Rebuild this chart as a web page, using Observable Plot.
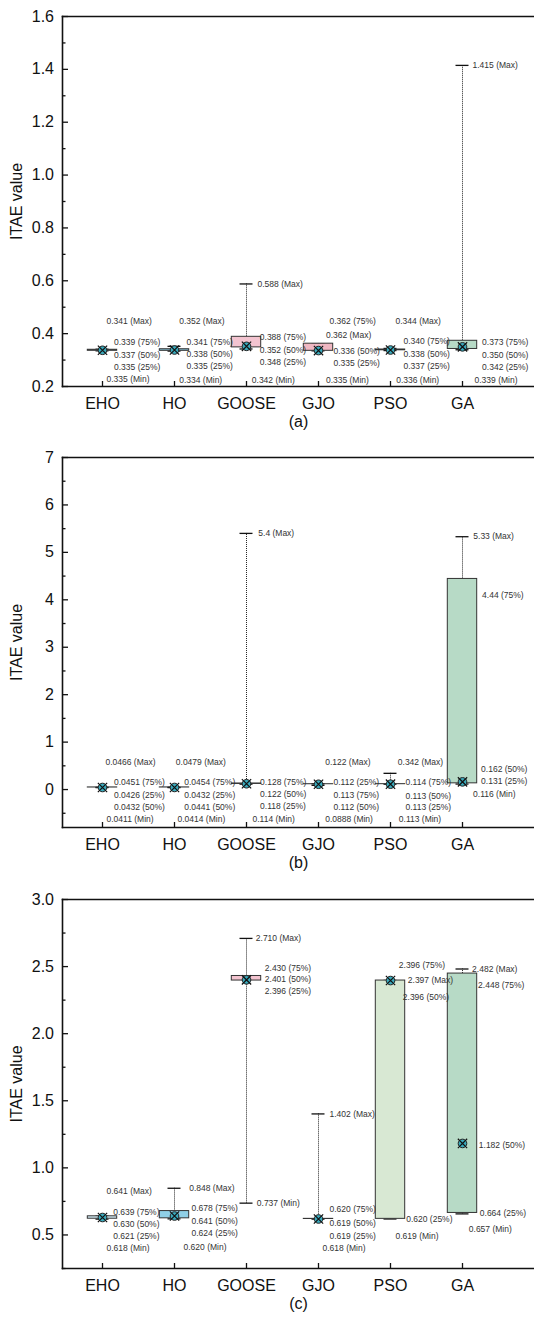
<!DOCTYPE html>
<html>
<head>
<meta charset="utf-8">
<script src="https://cdn.jsdelivr.net/npm/d3@7"></script>
<script src="https://cdn.jsdelivr.net/npm/@observablehq/plot@0.6"></script>
<style>
  html, body { margin: 0; padding: 0; background: #fff; }
  #chart svg { display: block; }
</style>
</head>
<body>
<div id="chart"></div>
<script>
// ---------- DATA ----------
const cats = ["EHO", "HO", "GOOSE", "GJO", "PSO", "GA"];

// Panel (a)
const aMax = [0.341, 0.352, 0.588, 0.362, 0.344, 1.415];
const aQ3  = [0.339, 0.341, 0.388, 0.362, 0.340, 0.373];
const aMed = [0.337, 0.338, 0.352, 0.336, 0.338, 0.350];
const aQ1  = [0.335, 0.335, 0.348, 0.335, 0.337, 0.342];
const aMin = [0.335, 0.334, 0.342, 0.335, 0.336, 0.339];
const aTicks = [0.2, 0.4, 0.6, 0.8, 1.0, 1.2, 1.4, 1.6];
const aMinor = [0.3, 0.5, 0.7, 0.9, 1.1, 1.3, 1.5];

// Panel (b)
const bMax = [0.0466, 0.0479, 5.4, 0.122, 0.342, 5.33];
const bQ3  = [0.0451, 0.0454, 0.128, 0.113, 0.114, 4.44];
const bMed = [0.0432, 0.0441, 0.122, 0.112, 0.113, 0.162];
const bQ1  = [0.0426, 0.0432, 0.118, 0.112, 0.113, 0.131];
const bMin = [0.0411, 0.0414, 0.114, 0.0888, 0.113, 0.116];
const bTicks = [0, 1, 2, 3, 4, 5, 6, 7];
const bMinor = [-0.5, 0.5, 1.5, 2.5, 3.5, 4.5, 5.5, 6.5];

// Panel (c)
const cMax = [0.641, 0.848, 2.710, 1.402, 2.397, 2.482];
const cQ3  = [0.639, 0.678, 2.430, 0.620, 2.396, 2.448];
const cMed = [0.630, 0.641, 2.401, 0.619, 2.396, 1.182];
const cQ1  = [0.621, 0.624, 2.396, 0.619, 0.620, 0.664];
const cMin = [0.618, 0.620, 0.737, 0.618, 0.619, 0.657];
const cTicks = [0.5, 1.0, 1.5, 2.0, 2.5, 3.0];
const cMinor = [0.25, 0.75, 1.25, 1.75, 2.25, 2.75];

const statNames = {max: "Max", q3: "75%", med: "50%", q1: "25%", min: "Min"};

// ---------- STYLE / LAYOUT ----------
const boxColors = ["#d3ebf4", "#8fcfe6", "#f3c4d0", "#efb7c2", "#d8e8d3", "#b7dac6"];
const FONT = "'Liberation Sans', Arial, Helvetica, sans-serif";

// label placement: [category, stat, mode ('b' = px above axis, 'v' = at value), offset px, dx px]
const aLayout = [
  ["EHO","max","b",65,4], ["EHO","q3","b",44,11.5], ["EHO","med","b",31,11.5], ["EHO","q1","b",19,11.5], ["EHO","min","b",7,4],
  ["HO","max","b",65,4.7], ["HO","q3","b",44,12], ["HO","med","b",32,12], ["HO","q1","b",20,12], ["HO","min","b",6.5,4.7],
  ["GOOSE","max","v",0,11], ["GOOSE","q3","b",49,13.3], ["GOOSE","med","b",36,13.3], ["GOOSE","q1","b",24,13.3], ["GOOSE","min","b",6.5,5.3],
  ["GJO","q3","b",65,11], ["GJO","max","b",51,7.4], ["GJO","med","b",35,15], ["GJO","q1","b",23,15], ["GJO","min","b",6.5,7.4],
  ["PSO","max","b",65,5], ["PSO","q3","b",45,13], ["PSO","med","b",32,13], ["PSO","q1","b",20,13], ["PSO","min","b",6.5,5.7],
  ["GA","max","v",0,10], ["GA","q3","b",44,19.6], ["GA","med","b",31,19.6], ["GA","q1","b",19,19.6], ["GA","min","b",6.5,12]
];
const bLayout = [
  ["EHO","max","b",65,3], ["EHO","q3","b",45,11.4], ["EHO","q1","b",32,11.4], ["EHO","med","b",20,11.4], ["EHO","min","b",8,4],
  ["HO","max","b",65,1.3], ["HO","q3","b",45,9.7], ["HO","q1","b",32,9.7], ["HO","med","b",20,9.7], ["HO","min","b",8,3],
  ["GOOSE","max","v",0,11.8], ["GOOSE","q3","b",45,13.6], ["GOOSE","med","b",33,13.6], ["GOOSE","q1","b",21,13.6], ["GOOSE","min","b",8,6],
  ["GJO","max","b",65,6.7], ["GJO","q1","b",45,15], ["GJO","q3","b",32,15], ["GJO","med","b",20,15], ["GJO","min","b",8,6.7],
  ["PSO","max","b",65,7.3], ["PSO","q3","b",45,15], ["PSO","med","b",31,15], ["PSO","q1","b",20,15], ["PSO","min","b",8,8.3],
  ["GA","max","v",0,10.8], ["GA","q3","v",-16,19.6], ["GA","med","b",58,18.6], ["GA","q1","b",46,18.6], ["GA","min","b",33,10.6]
];
const cLayout = [
  ["EHO","max","b",77,4], ["EHO","q3","b",56,10.7], ["EHO","med","b",44,10.7], ["EHO","q1","b",32,10.7], ["EHO","min","b",20,4],
  ["HO","max","v",0,14.7], ["HO","q3","b",60,17], ["HO","med","b",47,17], ["HO","q1","b",35,17], ["HO","min","b",21,9],
  ["GOOSE","max","v",0,9.3], ["GOOSE","q3","b",300,18.3], ["GOOSE","med","b",289,18.3], ["GOOSE","q1","b",277,18.3], ["GOOSE","min","v",0,10.3],
  ["GJO","max","v",0,11], ["GJO","q3","b",59,11], ["GJO","med","b",45,11], ["GJO","q1","b",32,11], ["GJO","min","b",20,4],
  ["PSO","q3","b",303,8.3], ["PSO","max","b",288,17.3], ["PSO","med","b",271,12.3], ["PSO","q1","v",0,15.7], ["PSO","min","b",32,5],
  ["GA","max","v",0,9.6], ["GA","q3","v",-12,15.6], ["GA","med","v",-2,16.3], ["GA","q1","v",0,17.3], ["GA","min","b",39,6.3]
];

function rows(mx, q3, md, q1, mn) {
  return cats.map((c, i) => ({cat: c, max: mx[i], q3: q3[i], med: md[i], q1: q1[i], min: mn[i]}));
}

function panel({data, layout, fmt, tickFmt, domain, ticks, minor, caption, height, marginTop, marginBottom}) {
  const width = 534, marginLeft = 62, marginRight = 0;
  const frameW = width - marginLeft - marginRight;
  const frameH = height - marginTop - marginBottom;
  const byCat = new Map(data.map(d => [d.cat, d]));
  const labelMarks = layout.map(([cat, stat, mode, off, dx]) => {
    const v = byCat.get(cat)[stat];
    const lab = {cat, y: v, text: `${fmt(v)} (${statNames[stat]})`};
    const common = {x: "cat", text: "text", textAnchor: "start", lineAnchor: "middle",
      fontSize: 8.5, fill: "#333", fontFamily: FONT, dx};
    return mode === "v"
      ? Plot.text([lab], {...common, y: "y", dy: -off})
      : Plot.text([lab], {...common, frameAnchor: "bottom", dy: -off});
  });
  return Plot.plot({
    width, height, marginTop, marginBottom, marginLeft, marginRight,
    style: {fontFamily: FONT, background: "#fff", color: "#111"},
    x: {type: "band", domain: cats, range: [64, 500], padding: 0},
    y: {domain},
    color: {type: "ordinal", domain: cats, range: boxColors},
    marks: [
      // whiskers
      Plot.ruleX(data, {x: "cat", y1: "q3", y2: "max", stroke: "#222", strokeWidth: 1, strokeDasharray: "1,1"}),
      Plot.ruleX(data, {x: "cat", y1: "min", y2: "q1", stroke: "#222", strokeWidth: 1, strokeDasharray: "1,1"}),
      // caps
      Plot.tickY(data, {x: "cat", y: "max", stroke: "#111", strokeWidth: 1.3, insetLeft: 29.5, insetRight: 29.5}),
      Plot.tickY(data, {x: "cat", y: "min", stroke: "#111", strokeWidth: 1.3, insetLeft: 29.5, insetRight: 29.5}),
      // boxes
      Plot.barY(data, {x: "cat", y1: "q1", y2: "q3", fill: "cat", stroke: "#333", strokeWidth: 1, insetLeft: 21.3, insetRight: 21.3}),
      // median markers
      Plot.dot(data, {x: "cat", y: "med", r: 4.3, fill: "#3aa9bb", stroke: "#222", strokeWidth: 1}),
      Plot.dot(data, {x: "cat", y: "med", r: 4.3, symbol: "times", stroke: "#111", strokeWidth: 1.2}),
      // frame lines
      Plot.frame({anchor: "top", stroke: "#111", strokeWidth: 1.6}),
      Plot.frame({anchor: "left", stroke: "#111", strokeWidth: 1.6}),
      Plot.frame({anchor: "bottom", stroke: "#111", strokeWidth: 1.6}),
      // inward ticks
      Plot.tickY(ticks, {y: d => d, stroke: "#111", strokeWidth: 1.3, insetRight: frameW - 6}),
      Plot.tickY(minor, {y: d => d, stroke: "#111", strokeWidth: 1.3, insetRight: frameW - 3.5}),
      Plot.tickX(cats, {x: d => d, stroke: "#111", strokeWidth: 1.3, insetTop: frameH - 5}),
      // axes
      Plot.axisY({ticks, tickFormat: tickFmt, tickSize: 0, tickPadding: 8.5, fontSize: 16,
        label: "ITAE value", labelAnchor: "center", labelArrow: "none", labelOffset: 52}),
      Plot.axisX({tickSize: 0, tickPadding: 11, fontSize: 16,
        label: caption, labelAnchor: "center", labelArrow: "none", labelOffset: 40}),
      ...labelMarks
    ]
  });
}

const root = document.getElementById("chart");
root.append(panel({
  data: rows(aMax, aQ3, aMed, aQ1, aMin), layout: aLayout, fmt: d3.format(".3f"), tickFmt: d3.format(".1f"),
  domain: [0.2, 1.6], ticks: aTicks, minor: aMinor, caption: "(a)", height: 441, marginTop: 16, marginBottom: 55
}));
root.append(panel({
  data: rows(bMax, bQ3, bMed, bQ1, bMin), layout: bLayout, fmt: d3.format(".3~g"), tickFmt: d3.format("d"),
  domain: [-0.8, 7], ticks: bTicks, minor: bMinor, caption: "(b)", height: 441, marginTop: 16, marginBottom: 55
}));
root.append(panel({
  data: rows(cMax, cQ3, cMed, cQ1, cMin), layout: cLayout, fmt: d3.format(".3f"), tickFmt: d3.format(".1f"),
  domain: [0.25, 3.0], ticks: cTicks, minor: cMinor, caption: "(c)", height: 436, marginTop: 17, marginBottom: 50
}));
</script>
</body>
</html>
